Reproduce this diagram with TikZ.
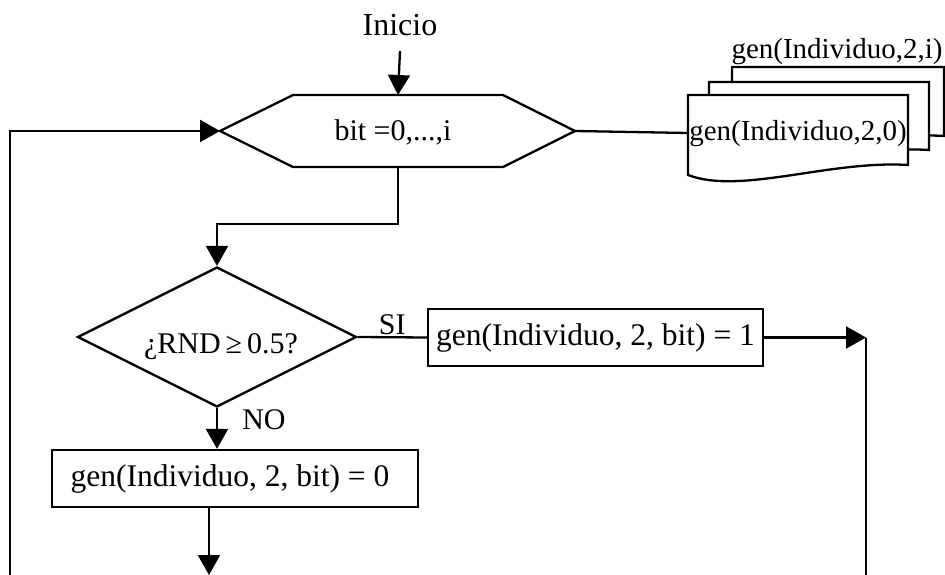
\documentclass[tikz,border=0pt]{standalone}
\usepackage{fontspec}
\setmainfont{Liberation Serif}
\usetikzlibrary{arrows.meta,shapes.geometric}

\tikzset{
  line/.style={line width=2.3pt, line join=miter},
  arr/.style={line, -{Triangle[length=20pt,width=22pt]}},
  txt/.style={font=\fontsize{30}{36}\selectfont, inner sep=2pt},
  boxtxt/.style={font=\fontsize{31.5}{36}\selectfont},
  doctxt/.style={font=\fontsize{29}{34}\selectfont, inner sep=0pt},
  procbox/.style={boxtxt, draw, line, minimum height=57pt, inner sep=0pt},
  docshape/.style={line, fill=white},
}

\begin{document}
\begin{tikzpicture}[x=1pt,y=-1pt]
\useasboundingbox (0,0) rectangle (945,575);

% start label
\node[txt, font=\fontsize{32}{36}\selectfont] (ini) at (400,25) {Inicio};

% loop header (hexagon)
\coordinate (hexW) at (220,131);
\coordinate (hexE) at (575,131);
\coordinate (hexN) at (398,95);
\coordinate (hexS) at (398,167);
\draw[line] (hexW) -- (293,95) -- (503,95) -- (hexE) -- (503,167) -- (293,167) -- cycle;
\node[txt] (hex) at (393,132) {bit =0,...,i};

% stacked documents
\draw[docshape] (732,67) -- (944,67) -- (944,136)
  .. controls (866,131) and (784,166) .. (732,147) -- cycle;
\draw[docshape] (709,82) -- (929,82) -- (929,150)
  .. controls (851,145) and (761,180) .. (709,160) -- cycle;
\draw[docshape] (688,95) -- (908,95) -- (908,165)
  .. controls (830,160) and (740,195) .. (688,175) -- cycle;
\node[doctxt] (docN) at (837,52) {gen(Individuo,2,i)};
\node[doctxt] (doc0) at (798,134) {gen(Individuo,2,0)};
\coordinate (docin) at (688,133);

% decision
\node[diamond, draw, line, minimum width=279pt, minimum height=140pt, inner sep=0pt] (dec) at (217,337) {};
\node[txt] (dectxt) at (221,347) {¿RND\,≥\,0.5?};

% process boxes
\node[procbox, minimum width=335pt] (box1) at (595.5,337.5) {gen(Individuo, 2, bit) = 1};
\node[procbox, minimum width=366pt] (box0) at (235,478.5) {\hspace{-10pt}gen(Individuo, 2, bit) = 0};

% branch labels
\node[txt] (no) at (264,420) {NO};

% loop-back ends at the bottom edge
\coordinate (loopin) at (10,575);
\coordinate (cornerR) at (866,337.5);
\coordinate (endR) at (866,575);
\coordinate (endB) at (209,575);

% connectors
\draw[arr] ([yshift=-13pt]ini.south) -- (hexN);
\draw[arr] (hexS) -- (398,224) -| (dec.north);
\draw[arr] (loopin) -- (10,131) -- (hexW);
\draw[line] (hexE) -- (docin);
\draw[line] (dec.east) -- node[txt, above, inner sep=1pt] {SI} (box1.west);
\draw[arr] (dec.south) -- (dec.south |- box0.north);
\draw[arr] (box1.east) -- (cornerR);
\draw[line] (cornerR) -- (endR);
\draw[arr] ([xshift=-26pt]box0.south) -- (endB);
\end{tikzpicture}
\end{document}
